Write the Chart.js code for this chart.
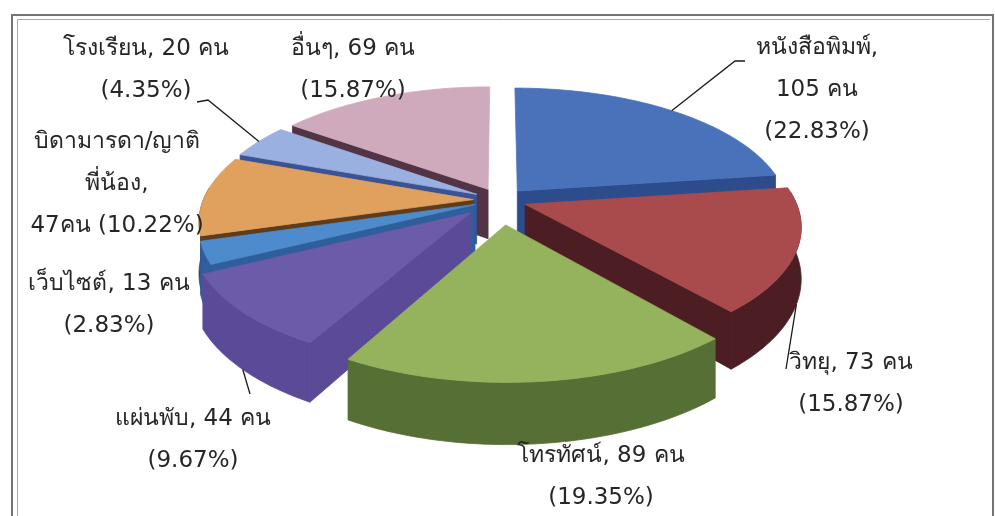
<!DOCTYPE html>
<html>
<head>
<meta charset="utf-8">
<script src="https://cdn.jsdelivr.net/npm/chart.js@4.4.1/dist/chart.umd.min.js"></script>
<style>
  html, body { margin: 0; padding: 0; background: #fff; }
  #wrap { width: 995px; height: 516px; }
</style>
</head>
<body>
<div id="wrap"><canvas id="mediaPie" width="995" height="516"></canvas></div>
<script>
// ช่องทางการรับข่าวสาร (คน)
const categories = ['หนังสือพิมพ์', 'วิทยุ', 'โทรทัศน์', 'แผ่นพับ', 'เว็บไซต์', 'บิดามารดา/ญาติพี่น้อง', 'โรงเรียน', 'อื่นๆ'];
const counts = [105, 73, 89, 44, 13, 47, 20, 69];
const percents = ['22.83%', '15.87%', '19.35%', '9.67%', '2.83%', '10.22%', '4.35%', '15.87%'];

// สีหน้าบน / สีด้านข้าง
const topColors  = ['#4a72bb', '#a94a4d', '#95b35c', '#6b5ba8', '#4d8bcc', '#e0a15e', '#9ab0e0', '#cfaabd'];
const sideColors = ['#2c4c8c', '#4c1e23', '#566f35', '#5a4a98', '#2f5e9c', '#5e3d1f', '#3b5294', '#523445'];

// มุมมอง 3 มิติ (px) และระยะ perspective (หน่วยรัศมี)
const VIEW = { rx: 270, ry: 122.5, depth: 50, persp: 6.1 };

// ตำแหน่งป้าย (จุดกึ่งกลางข้อความ บรรทัดแรก) + เส้นชี้
const labelLayout = [
  { x: 817, y: 48,  mode: 'wrap3', leader: [[735, 61], [745, 61]] },
  { x: 851, y: 363, mode: 'two',   leader: [[786, 369]] },
  { x: 601, y: 456, mode: 'two' },
  { x: 193, y: 419, mode: 'two',   leader: [[250, 394]] },
  { x: 109, y: 284, mode: 'two' },
  { x: 117, y: 142, mode: 'split', breakAfter: 'ญาติ' },
  { x: 146, y: 49,  mode: 'two',   leader: [[208, 100], [197, 102]] },
  { x: 353, y: 49,  mode: 'two' }
];
const LINE_H = 42;

function labelLines(i) {
  const cat = categories[i], n = counts[i], p = '(' + percents[i] + ')';
  const L = labelLayout[i];
  if (L.mode === 'wrap3') return [cat + ',', n + ' คน', p];
  if (L.mode === 'split') {
    const k = cat.indexOf(L.breakAfter) + L.breakAfter.length;
    return [cat.slice(0, k), cat.slice(k) + ',', n + 'คน ' + p];
  }
  return [cat + ', ' + n + ' คน', p];
}

function project(arc, X, F, h) {
  const s = VIEW.persp / (VIEW.persp - F);
  return { x: arc.x + X * VIEW.rx * s, y: arc.y + (F * VIEW.ry + h * VIEW.depth) * s };
}

function fillPoly(ctx, pts, color) {
  ctx.beginPath();
  pts.forEach((p, k) => k ? ctx.lineTo(p.x, p.y) : ctx.moveTo(p.x, p.y));
  ctx.closePath();
  ctx.fillStyle = color;
  ctx.strokeStyle = color;
  ctx.lineWidth = 0.8;
  ctx.fill();
  ctx.stroke();
}

function sliceGeom(arc) {
  const e = (arc.options.offset || 0) / arc.outerRadius;
  const a1 = arc.startAngle, a2 = arc.endAngle, mid = (a1 + a2) / 2;
  const ox = e * Math.cos(mid), of = e * Math.sin(mid);
  const P = (a, h) => project(arc, ox + Math.cos(a), of + Math.sin(a), h);
  const C = h => project(arc, ox, of, h);
  const arcPts = (from, to, h) => {
    const n = Math.max(2, Math.ceil(Math.abs(to - from) / 0.02));
    const out = [];
    for (let k = 0; k <= n; k++) out.push(P(from + (to - from) * k / n, h));
    return out;
  };
  return { a1, a2, mid, P, C, arcPts };
}

function drawSlice(ctx, arc, i) {
  const g = sliceGeom(arc);
  const side = sideColors[i];
  // ผนังด้านรัศมี
  if (Math.cos(g.a1) < 0) fillPoly(ctx, [g.C(0), g.P(g.a1, 0), g.P(g.a1, 1), g.C(1)], side);
  if (Math.cos(g.a2) > 0) fillPoly(ctx, [g.C(0), g.P(g.a2, 0), g.P(g.a2, 1), g.C(1)], side);
  // ผนังโค้งด้านหน้า
  const lo = Math.max(g.a1, -0.1), hi = Math.min(g.a2, Math.PI + 0.1);
  if (hi > lo) fillPoly(ctx, g.arcPts(lo, hi, 0).concat(g.arcPts(hi, lo, 1)), side);
  // หน้าบน
  fillPoly(ctx, [g.C(0)].concat(g.arcPts(g.a1, g.a2, 0)), arc.options.backgroundColor);
}

const framePlugin = {
  id: 'frame',
  beforeDraw(chart) {
    const ctx = chart.ctx;
    ctx.save();
    ctx.fillStyle = '#fff';
    ctx.fillRect(0, 0, chart.width, chart.height);
    ctx.strokeStyle = '#747474';
    ctx.lineWidth = 2;
    ctx.strokeRect(12, 15, 981, 520);
    ctx.strokeStyle = '#a8a8a8';
    ctx.lineWidth = 1;
    ctx.beginPath();
    ctx.moveTo(17.5, 520); ctx.lineTo(17.5, 19.5); ctx.lineTo(990, 19.5);
    ctx.stroke();
    ctx.restore();
  }
};

const pie3dPlugin = {
  id: 'pie3d',
  beforeDatasetsDraw(chart) {
    const ctx = chart.ctx;
    const arcs = chart.getDatasetMeta(0).data;
    // วาดจากชิ้นด้านหลังไปด้านหน้า
    const order = arcs.map((a, i) => i).sort((i, j) => {
      const mi = (arcs[i].startAngle + arcs[i].endAngle) / 2;
      const mj = (arcs[j].startAngle + arcs[j].endAngle) / 2;
      return Math.sin(mi) - Math.sin(mj);
    });
    ctx.save();
    order.forEach(i => drawSlice(ctx, arcs[i], i));
    ctx.restore();
    return false;
  }
};

const labelPlugin = {
  id: 'pieLabels',
  afterDraw(chart) {
    const ctx = chart.ctx;
    const arcs = chart.getDatasetMeta(0).data;
    ctx.save();
    ctx.strokeStyle = '#1a1a1a';
    ctx.lineWidth = 1.3;
    arcs.forEach((arc, i) => {
      const L = labelLayout[i];
      if (!L.leader) return;
      const g = sliceGeom(arc);
      const front = Math.sin(g.mid) > 0;
      const start = g.P(g.mid, front ? 1 : 0);
      ctx.beginPath();
      ctx.moveTo(start.x, start.y);
      L.leader.forEach(pt => ctx.lineTo(pt[0], pt[1]));
      ctx.stroke();
    });
    ctx.fillStyle = '#262626';
    ctx.font = '23px "DejaVu Sans", Tahoma, sans-serif';
    ctx.textAlign = 'center';
    ctx.textBaseline = 'middle';
    arcs.forEach((arc, i) => {
      const L = labelLayout[i];
      labelLines(i).forEach((t, k) => ctx.fillText(t, L.x, L.y + k * LINE_H));
    });
    ctx.restore();
  }
};

new Chart(document.getElementById('mediaPie'), {
  type: 'pie',
  data: {
    labels: categories,
    datasets: [{
      data: counts,
      backgroundColor: topColors,
      borderWidth: 0,
      offset: [18, 18, 36, 27, 18, 18, 18, 18]
    }]
  },
  options: {
    responsive: false,
    animation: false,
    events: [],
    layout: { padding: { left: 5, right: 0, top: 0, bottom: 116 } },
    plugins: {
      legend: { display: false },
      tooltip: { enabled: false }
    }
  },
  plugins: [framePlugin, pie3dPlugin, labelPlugin]
});
</script>
</body>
</html>
